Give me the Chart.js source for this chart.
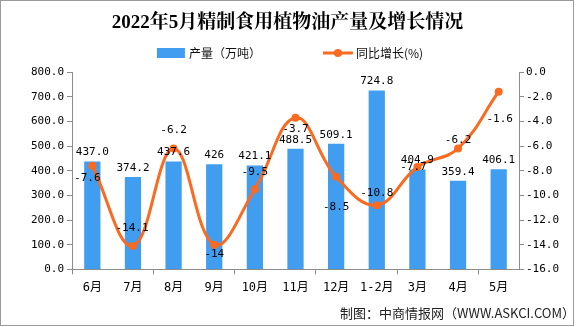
<!DOCTYPE html>
<html lang="zh-CN">
<head>
  <meta charset="UTF-8">
  <title>2022年5月精制食用植物油产量及增长情况</title>
  <script src="https://cdn.jsdelivr.net/npm/chart.js"></script>
  <style>
    html, body { margin: 0; padding: 0; background: #fff; }
  </style>
</head>
<body>
  <canvas id="oilChart" width="585" height="327"></canvas>

  <script>
    // data
    const months = ['6月', '7月', '8月', '9月', '10月', '11月', '12月', '1-2月', '3月', '4月', '5月'];
    const output = ['437.0', '374.2', '437.6', '426', '421.1', '488.5', '509.1', '724.8', '404.9', '359.4', '406.1']; // 万吨
    const growth = ['-7.6', '-14.1', '-6.2', '-14', '-9.5', '-3.7', '-8.5', '-10.8', '-7.7', '-6.2', '-1.6']; // %
    const outputTicks = [0, 100, 200, 300, 400, 500, 600, 700, 800];
    const growthTicks = [-16, -14, -12, -10, -8, -6, -4, -2, 0];

    const BLUE = '#419df0';
    const ORANGE = '#fa6a20';
    const AXIS = '#8c8c8c';
    const NUM_FONT = '"DejaVu Sans Mono", "Liberation Mono", monospace';
    const CJK_FONT = '"Noto Sans CJK SC", sans-serif';

    // where each growth label sits relative to its point (dx, dy)
    const growthLabelShift = [[-5, 12], [-1, -18], [0, -18], [0, 9], [0, -17], [0, 11], [0, 30], [0, -12], [-4, 0], [0, -8], [1, 27]];

    const frame = {
      id: 'frame',
      beforeDraw(chart) {
        const ctx = chart.ctx;
        ctx.save();
        ctx.fillStyle = '#fff';
        ctx.fillRect(0, 0, chart.width, chart.height);
        ctx.strokeStyle = '#9a9a9a';
        ctx.lineWidth = 1;
        ctx.strokeRect(0.5, 0.5, 573, 325);
        ctx.restore();
      }
    };

    // legend drawn by hand: bar swatch first, then line with dot
    const topLegend = {
      id: 'topLegend',
      afterDraw(chart) {
        const ctx = chart.ctx;
        const y = 53;
        const barLabel = chart.data.datasets[1].label;
        const lineLabel = chart.data.datasets[0].label;
        ctx.save();
        ctx.font = '12px ' + CJK_FONT;
        const w1 = ctx.measureText(barLabel).width;
        const w2 = ctx.measureText(lineLabel).width;
        const total = 28 + 4 + w1 + 62 + 30 + 3 + w2;
        let x = 290 - total / 2;
        ctx.fillStyle = BLUE;
        ctx.fillRect(x, y - 5, 28, 10);
        x += 32;
        ctx.fillStyle = '#111';
        ctx.textBaseline = 'middle';
        ctx.fillText(barLabel, x, y);
        x += w1 + 62;
        ctx.strokeStyle = ORANGE;
        ctx.lineWidth = 3;
        ctx.beginPath();
        ctx.moveTo(x, y);
        ctx.lineTo(x + 30, y);
        ctx.stroke();
        ctx.fillStyle = ORANGE;
        ctx.beginPath();
        ctx.arc(x + 15, y, 4, 0, Math.PI * 2);
        ctx.fill();
        x += 33;
        ctx.fillStyle = '#111';
        ctx.fillText(lineLabel, x, y);
        ctx.restore();
      }
    };

    const valueLabels = {
      id: 'valueLabels',
      afterDatasetsDraw(chart) {
        const ctx = chart.ctx;
        ctx.save();
        ctx.font = '11px ' + NUM_FONT;
        ctx.fillStyle = '#000';
        ctx.textAlign = 'center';
        ctx.textBaseline = 'middle';
        chart.getDatasetMeta(1).data.forEach((bar, i) => {
          ctx.fillText(output[i], bar.x, bar.y - 9);
        });
        chart.getDatasetMeta(0).data.forEach((pt, i) => {
          const s = growthLabelShift[i];
          ctx.fillText(growth[i], pt.x + s[0], pt.y + s[1]);
        });
        ctx.restore();
      }
    };

    const ctx = document.getElementById('oilChart').getContext('2d');
    const oilChart = new Chart(ctx, {
      type: 'bar',
      data: {
        labels: months,
        datasets: [{
          type: 'line',
          label: '同比增长(%)',
          data: growth,
          yAxisID: 'yGrowth',
          borderColor: ORANGE,
          backgroundColor: ORANGE,
          borderWidth: 3,
          pointRadius: 4,
          pointBackgroundColor: ORANGE,
          pointBorderWidth: 0,
          tension: 0.4,
          order: 1
        }, {
          label: '产量（万吨）',
          data: output,
          yAxisID: 'yOutput',
          backgroundColor: BLUE,
          categoryPercentage: 1,
          barPercentage: 0.4,
          order: 2
        }]
      },
      options: {
        responsive: false,
        animation: false,
        devicePixelRatio: 1,
        layout: { padding: { left: 0, right: 10, top: 0, bottom: 0 } },
        plugins: {
          legend: { display: false },
          tooltip: { enabled: false },
          title: {
            display: true,
            text: '2022年5月精制食用植物油产量及增长情况',
            color: '#000',
            font: { family: '"Liberation Serif", "Noto Serif CJK SC", "Noto Sans CJK SC", serif', size: 19, weight: 'bold' },
            padding: { top: 12, bottom: 37.2 }
          },
          subtitle: {
            display: true,
            position: 'bottom',
            align: 'end',
            text: '制图：中商情报网（WWW.ASKCI.COM）',
            color: '#222',
            font: { family: CJK_FONT, size: 13 },
            padding: { top: 6, bottom: 6 }
          }
        },
        scales: {
          x: {
            grid: {
              drawOnChartArea: false,
              tickLength: 5,
              color: c => (c.index % 2 === 0 ? AXIS : 'rgba(0,0,0,0)')
            },
            border: { color: AXIS },
            ticks: {
              color: '#000',
              padding: 6,
              maxRotation: 0,
              autoSkip: false,
              font: { family: NUM_FONT + ', ' + CJK_FONT, size: 12 }
            },
            afterFit: s => { s.height = 30; }
          },
          yOutput: {
            position: 'left',
            min: outputTicks[0],
            max: outputTicks[outputTicks.length - 1],
            grid: { drawOnChartArea: false, tickLength: 5, color: AXIS },
            border: { color: AXIS },
            ticks: {
              stepSize: outputTicks[1] - outputTicks[0],
              color: '#000',
              padding: 3,
              font: { family: NUM_FONT, size: 11 },
              callback: v => v.toFixed(1)
            },
            afterFit: s => { s.width = 72; }
          },
          yGrowth: {
            position: 'right',
            min: growthTicks[0],
            max: growthTicks[growthTicks.length - 1],
            grid: { drawOnChartArea: false, tickLength: 5, color: AXIS },
            border: { color: AXIS },
            ticks: {
              stepSize: growthTicks[1] - growthTicks[0],
              color: '#000',
              padding: 2,
              font: { family: NUM_FONT, size: 11 },
              callback: v => v.toFixed(1)
            },
            afterFit: s => { s.width = 56; }
          }
        }
      },
      plugins: [frame, topLegend, valueLabels]
    });
  </script>
</body>
</html>
